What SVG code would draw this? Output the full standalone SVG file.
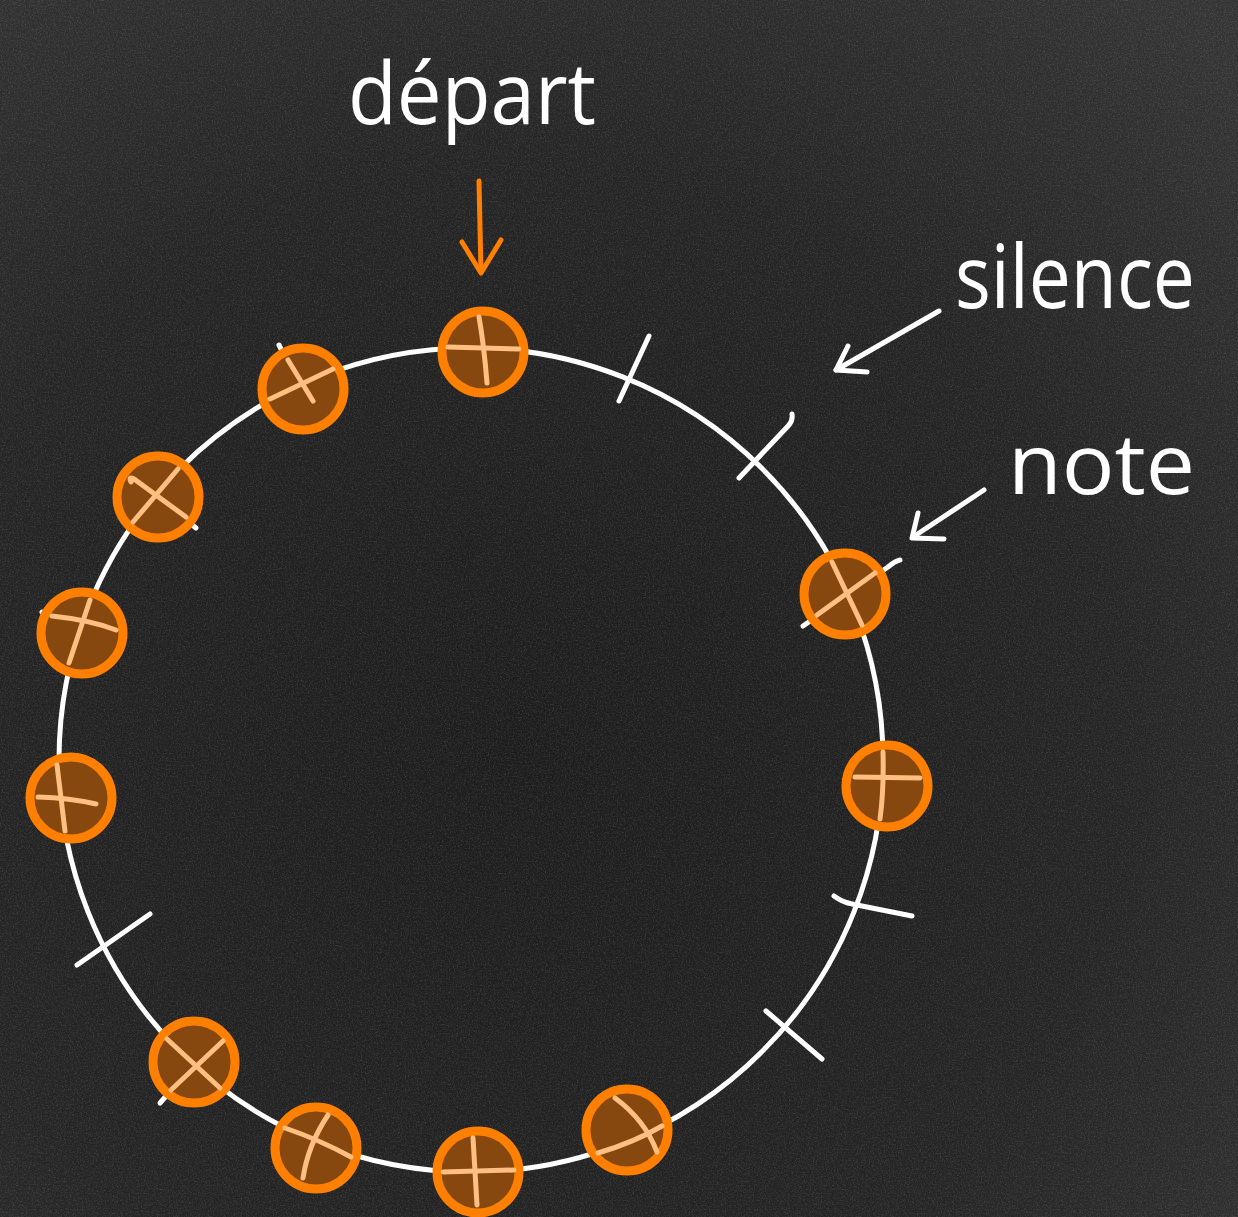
<svg xmlns="http://www.w3.org/2000/svg" width="1238" height="1217" viewBox="0 0 1238 1217">
  <defs>
    <radialGradient id="bg" cx="0.42" cy="0.62" r="0.8">
      <stop offset="0" stop-color="#1c1c1c"/>
      <stop offset="0.6" stop-color="#242424"/>
      <stop offset="1" stop-color="#333333"/>
    </radialGradient>
    <filter id="grain" x="0" y="0" width="100%" height="100%">
      <feTurbulence type="fractalNoise" baseFrequency="0.75" numOctaves="3" seed="4" result="n"/>
      <feColorMatrix type="matrix" values="0 0 0 0 1  0 0 0 0 1  0 0 0 0 1  0.9 0 0 0 -0.38"/>
    </filter>
    <style>
      .chalk { fill: none; stroke: #ffffff; stroke-width: 5; stroke-linecap: round; stroke-linejoin: round; }
      .ring { fill: none; stroke: #ffffff; stroke-width: 5; }
      .arr { fill: none; stroke: #ff8000; stroke-width: 5; stroke-linecap: round; stroke-linejoin: round; }
      .note circle { fill: #86480f; stroke: #ff8000; stroke-width: 9; }
      .note path { fill: none; stroke: #ffbf80; stroke-width: 5; stroke-linecap: round; }
      .lbl { fill: #ffffff; font-family: "Open Sans", "Liberation Sans", sans-serif; font-weight: 400; }
    </style>
  </defs>

  <rect width="1238" height="1217" fill="url(#bg)"/>
  <rect width="1238" height="1217" filter="url(#grain)" opacity="0.35"/>

  <g id="connectors">
    <circle class="ring" cx="471" cy="760" r="412"/>
    <!-- silence ticks -->
    <path class="chalk" d="M649 336 L619 401"/>
    <path class="chalk" d="M792 414 Q793 420 789 425 L739 478"/>
    <path class="chalk" d="M834 896 Q842 902 852 904 L912 916"/>
    <path class="chalk" d="M766 1011 L822 1059"/>
    <path class="chalk" d="M150 914 L77 965"/>
    <!-- ticks under notes -->
    <path class="chalk" d="M279 345 L300 386"/>
    <path class="chalk" d="M160 498 L196 528"/>
    <path class="chalk" d="M42 612 L80 628"/>
    <path class="chalk" d="M160 1103 L194 1064"/>
    <path class="chalk" d="M803 626 L888 567 Q895 561 900 560"/>
    <!-- départ arrow -->
    <path class="arr" d="M479 181 L481 272"/>
    <path class="arr" d="M462 242 L481 273 L501 240"/>
    <!-- silence arrow -->
    <path class="chalk" d="M939 311 L836 370"/>
    <path class="chalk" d="M848 346 L836 370 L867 372"/>
    <!-- note arrow -->
    <path class="chalk" d="M984 490 L913 537"/>
    <path class="chalk" d="M918 513 L912 538 L944 539"/>
  </g>

  <g id="note-0" class="note"><circle cx="483" cy="352" r="41"/><path d="M479 317 Q484 345 487 383"/><path d="M448 347 L519 349"/></g>
  <g id="note-3" class="note"><circle cx="845" cy="594" r="41"/><path d="M832 562 L862 625"/><path d="M817 615 L875 573"/></g>
  <g id="note-4" class="note"><circle cx="887" cy="786" r="41"/><path d="M883 752 Q884 790 880 819"/><path d="M855 777 L920 778"/></g>
  <g id="note-7" class="note"><circle cx="627" cy="1130" r="41"/><path d="M615 1098 Q645 1120 657 1152"/><path d="M598 1153 Q635 1142 662 1126"/></g>
  <g id="note-8" class="note"><circle cx="478" cy="1172" r="41"/><path d="M473 1138 L477 1205"/><path d="M443 1172 L514 1170"/></g>
  <g id="note-9" class="note"><circle cx="316" cy="1148" r="41"/><path d="M285 1128 Q320 1140 351 1157"/><path d="M328 1115 Q308 1145 303 1178"/></g>
  <g id="note-10" class="note"><circle cx="194" cy="1062" r="41"/><path d="M167 1039 L220 1088"/><path d="M223 1041 L171 1090"/></g>
  <g id="note-12" class="note"><circle cx="71" cy="798" r="41"/><path d="M38 797 Q70 798 96 804"/><path d="M57 765 L65 831"/></g>
  <g id="note-13" class="note"><circle cx="82" cy="633" r="41"/><path d="M52 616 Q90 620 116 630"/><path d="M90 600 L69 663"/></g>
  <g id="note-14" class="note"><circle cx="158" cy="497" r="41"/><path d="M131 482 Q128 476 134 479 L186 517"/><path d="M178 469 L133 522"/></g>
  <g id="note-15" class="note"><circle cx="303" cy="389" r="41"/><path d="M288 360 L313 401"/><path d="M270 399 L333 369"/></g>

  <g id="label-depart"><text class="lbl" x="348" y="124" font-size="86" textLength="248" lengthAdjust="spacingAndGlyphs">départ</text></g>
  <g id="label-silence"><text class="lbl" x="955" y="308" font-size="88" textLength="240" lengthAdjust="spacingAndGlyphs">silence</text></g>
  <g id="label-note"><text class="lbl" x="1008" y="494" font-size="84" textLength="187" lengthAdjust="spacingAndGlyphs">note</text></g>
</svg>
